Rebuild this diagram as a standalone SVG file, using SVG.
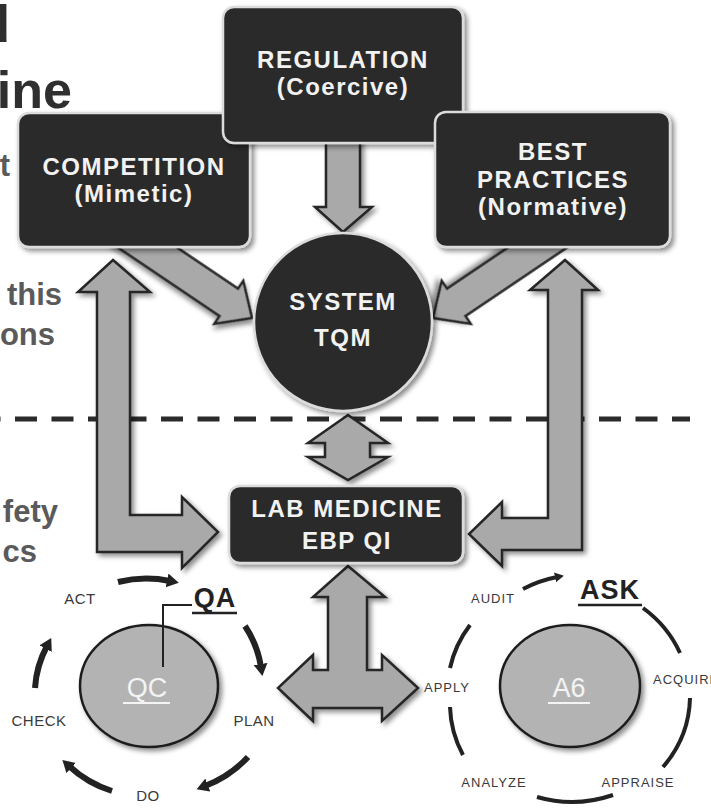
<svg xmlns="http://www.w3.org/2000/svg" width="711" height="808" viewBox="0 0 711 808">
<defs>
<filter id="sh" x="-20%" y="-20%" width="140%" height="140%">
<feDropShadow dx="3" dy="3" stdDeviation="2.5" flood-color="#000" flood-opacity="0.45"/>
</filter>
<marker id="hd" markerUnits="userSpaceOnUse" markerWidth="16" markerHeight="16" refX="3" refY="7" orient="auto">
<path d="M0,0 L12,7 L0,14 Z" fill="#222"/>
</marker>
<marker id="hs" markerUnits="userSpaceOnUse" markerWidth="12" markerHeight="12" refX="2" refY="5" orient="auto">
<path d="M0,0 L9,5 L0,10 Z" fill="#222"/>
</marker>
<style>
.box{fill:#2b2b2b;stroke:#dcdcdc;stroke-width:2.5;filter:url(#sh)}
.arr{fill:#a9a9a9;stroke:#262626;stroke-width:2.5;stroke-linejoin:miter;filter:url(#sh)}
.lbl{fill:#f2f2f2;font-family:"Liberation Sans",Arial,sans-serif;font-weight:bold;font-size:24px;letter-spacing:1.5px;text-anchor:middle}
.ttl{fill:#2f2f2f;font-family:"Liberation Sans",Arial,sans-serif;font-weight:bold;font-size:52px;text-anchor:end}
.sub{fill:#5a5a5a;font-family:"Liberation Sans",Arial,sans-serif;font-weight:bold;font-size:31px;text-anchor:end}
.ell{fill:#b3b3b3;stroke:#1e1e1e;stroke-width:2.5;filter:url(#sh)}
.cyc{fill:none;stroke:#222;stroke-width:6}
.cyc2{fill:none;stroke:#222;stroke-width:4}
.sm{fill:#3a3a3a;font-family:"Liberation Sans",Arial,sans-serif;font-size:15px;letter-spacing:0.5px;text-anchor:middle}
.sm2{fill:#3a3a3a;font-family:"Liberation Sans",Arial,sans-serif;font-size:13px;letter-spacing:1px;text-anchor:middle}
.big{fill:#f4f4f4;font-family:"Liberation Sans",Arial,sans-serif;font-size:27px;text-anchor:middle}
.hdr{fill:#222;font-family:"Liberation Sans",Arial,sans-serif;font-weight:bold;font-size:27px;letter-spacing:1px;text-anchor:middle}
</style>
</defs>
<rect width="711" height="808" fill="#fff"/>

<g id="background-text">
<text class="ttl" x="10" y="42">d</text>
<text class="ttl" x="72" y="108">ine</text>
<text class="sub" x="10" y="176">t</text>
<text class="sub" x="62" y="305">this</text>
<text class="sub" x="55" y="345">ons</text>
<text class="sub" x="58" y="522">fety</text>
<text class="sub" x="37" y="562">cs</text>
</g>

<line id="divider" x1="0" y1="419" x2="690" y2="419" stroke="#2a2a2a" stroke-width="5" stroke-dasharray="22 14.5" stroke-dashoffset="21.5"/>

<g id="connectors">
<path class="arr" d="M0,0 L-28,-26 L-28,-16.5 L-160,-16.5 L-160,16.5 L-28,16.5 L-28,26 Z" transform="translate(252,318) rotate(34)"/>
<path class="arr" d="M0,0 L-28,-26 L-28,-16.5 L-160,-16.5 L-160,16.5 L-28,16.5 L-28,26 Z" transform="translate(433,318) rotate(146)"/>
<path class="arr" d="M326,136 L360,136 L360,207 L372,207 L343,232 L315,207 L326,207 Z"/>
<path class="arr" d="M113,260 L150,292 L130,292 L130,515 L182,515 L182,497 L218,532 L182,568 L182,552 L97,552 L97,292 L78,292 Z"/>
<path class="arr" d="M565,260 L598,290 L582,290 L582,550 L502,550 L502,566 L469,534 L502,502 L502,518 L548,518 L548,290 L530,290 Z"/>
<path class="arr" d="M348,415 L388,443 L370,443 L370,457 L388,457 L348,480 L308,457 L325,457 L325,443 L308,443 Z"/>
<path class="arr" d="M348,566 L385,597 L367,597 L367,670 L382,670 L382,655 L418,688 L382,721 L382,708 L313,708 L313,721 L278,688 L313,655 L313,670 L328,670 L328,597 L313,597 Z"/>
</g>

<g id="competition">
<rect class="box" x="18" y="113" width="232" height="134" rx="11"/>
<text class="lbl" x="134" y="175">COMPETITION</text>
<text class="lbl" x="134" y="202">(Mimetic)</text>
</g>

<g id="regulation">
<rect class="box" x="223" y="7" width="240" height="136" rx="11"/>
<text class="lbl" x="343" y="68">REGULATION</text>
<text class="lbl" x="343" y="95">(Coercive)</text>
</g>

<g id="best-practices">
<rect class="box" x="435" y="112" width="235" height="135" rx="11"/>
<text class="lbl" x="553" y="160">BEST</text>
<text class="lbl" x="553" y="188">PRACTICES</text>
<text class="lbl" x="553" y="215">(Normative)</text>
</g>

<g id="system-tqm">
<circle cx="343" cy="322" r="89" fill="#2b2b2b" stroke="#dcdcdc" stroke-width="2.5" filter="url(#sh)"/>
<text class="lbl" x="343" y="310">SYSTEM</text>
<text class="lbl" x="343" y="346">TQM</text>
</g>

<g id="lab-medicine">
<rect class="box" x="229" y="486" width="234" height="77" rx="11"/>
<text class="lbl" x="347" y="517">LAB MEDICINE</text>
<text class="lbl" x="347" y="549">EBP QI</text>
</g>

<g id="qa-cycle">
<path class="cyc" d="M118,582 A113,107 0 0 1 170,581" marker-end="url(#hd)"/>
<path class="cyc" d="M245,626 A113,107 0 0 1 261,667" marker-end="url(#hd)"/>
<path class="cyc" d="M248,757 A113,110 0 0 1 205,786" marker-end="url(#hd)"/>
<path class="cyc" d="M112,791 A113,110 0 0 1 69,766" marker-end="url(#hd)"/>
<path class="cyc" d="M35,688 A113,107 0 0 1 47,646" marker-end="url(#hd)"/>
<text class="sm" x="80" y="604">ACT</text>
<text class="sm" x="39" y="726">CHECK</text>
<text class="sm" x="254" y="726">PLAN</text>
<text class="sm" x="148" y="801">DO</text>
</g>

<g id="qc">
<ellipse class="ell" cx="149" cy="686" rx="69" ry="61"/>
<text class="big" x="147" y="697">QC</text>
<line x1="123" y1="703" x2="170" y2="703" stroke="#f4f4f4" stroke-width="2"/>
<path d="M192,605 L163,605 L163,667" fill="none" stroke="#222" stroke-width="2"/>
</g>

<g id="qa">
<text class="hdr" x="215" y="607">QA</text>
<line x1="192" y1="613" x2="237" y2="613" stroke="#222" stroke-width="2.5"/>
</g>

<g id="ask-cycle">
<path class="cyc2" d="M523,589 A120,113 0 0 1 557,577" marker-end="url(#hs)"/>
<path class="cyc2" d="M643,608 A120,113 0 0 1 680,653"/>
<path class="cyc2" d="M690,698 A120,113 0 0 1 663,767"/>
<path class="cyc2" d="M613,795 A120,113 0 0 1 537,797"/>
<path class="cyc2" d="M463,755 A120,113 0 0 1 450,707"/>
<path class="cyc2" d="M450,668 A120,113 0 0 1 470,625"/>
<text class="sm2" x="493" y="603">AUDIT</text>
<text class="sm2" x="447" y="692">APPLY</text>
<text class="sm2" x="653" y="684" style="text-anchor:start">ACQUIRE</text>
<text class="sm2" x="638" y="787">APPRAISE</text>
<text class="sm2" x="494" y="787">ANALYZE</text>
</g>

<g id="a6">
<ellipse class="ell" cx="570" cy="686" rx="70" ry="61"/>
<text class="big" x="569" y="697">A6</text>
<line x1="548" y1="703" x2="590" y2="703" stroke="#f4f4f4" stroke-width="2"/>
</g>

<g id="ask">
<text class="hdr" x="610" y="599">ASK</text>
<line x1="578" y1="605" x2="642" y2="605" stroke="#222" stroke-width="2.5"/>
</g>
</svg>
